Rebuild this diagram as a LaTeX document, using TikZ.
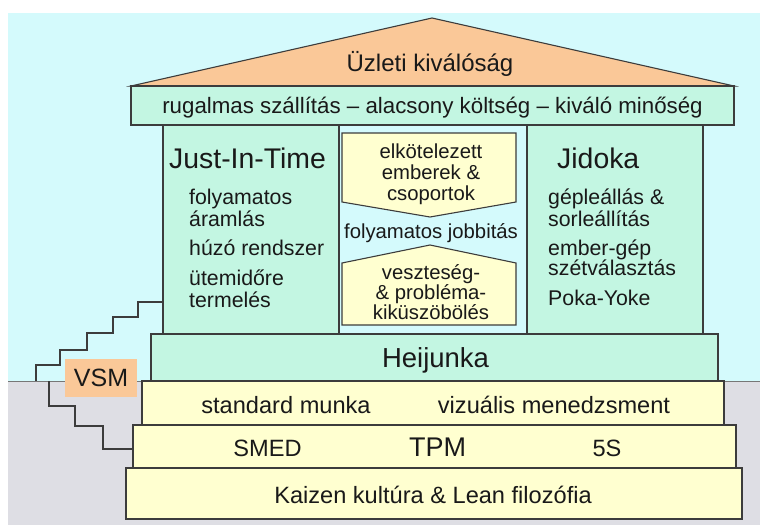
\documentclass[tikz,border=0pt]{standalone}
\usepackage{fontspec}
\setmainfont{Liberation Sans}
\definecolor{skyc}{RGB}{212,250,252}
\definecolor{groundc}{RGB}{222,222,228}
\definecolor{mintc}{RGB}{195,246,226}
\definecolor{peachc}{RGB}{250,200,152}
\definecolor{creamc}{RGB}{255,255,208}
\definecolor{edgec}{RGB}{60,60,60}
\definecolor{inkc}{RGB}{25,25,25}
\begin{document}
\begin{tikzpicture}[x=1pt,y=-1pt,
  box/.style={draw=edgec, line width=1.1pt, inner sep=0pt, outer sep=0pt, anchor=north west},
  stair/.style={draw=edgec, line width=1.4pt},
  body/.style={inner sep=0pt, text=inkc, font=\fontsize{21.3}{21.3}\selectfont, text height=15.3pt, text depth=0pt},
  mid/.style={inner sep=0pt, text=inkc, font=\fontsize{20.3}{20.3}\selectfont, text height=14.5pt, text depth=0pt},
  base/.style={inner sep=0pt, text=inkc, font=\fontsize{23.6}{23.6}\selectfont, text height=16.9pt, text depth=0pt},
  big/.style={inner sep=0pt, text=inkc, font=\fontsize{28.4}{28.4}\selectfont, text height=20.3pt, text depth=0pt}]
\useasboundingbox (0,0) rectangle (760,527);
\fill[white] (0,0) rectangle (760,527);
\fill[skyc] (8,13) rectangle (760,381);
\fill[groundc] (8,381) rectangle (760,525);
\draw[edgec!70, line width=0.8pt] (8,381) -- (760,381);
% roof
\draw[edgec, line width=1.1pt, fill=peachc] (131,86) -- (432,18) -- (734,86) -- cycle;
\node[inner sep=0pt, text=inkc, font=\fontsize{24}{24}\selectfont, text height=17.2pt, text depth=0pt] (roof) at (430,63) {Üzleti kiválóság};
% band
\node[box, fill=mintc, minimum width=603pt, minimum height=39pt] (band) at (131,86) {};
\node[body, font=\fontsize{22.3}{22.3}\selectfont, text height=16pt] (bandt) at (band.center) {rugalmas szállítás – alacsony költség – kiváló minőség};
% columns
\node[box, fill=mintc, minimum width=176pt, minimum height=209pt] (jit) at (163,125) {};
\node[box, fill=mintc, minimum width=176pt, minimum height=209pt] (jid) at (527,125) {};
\node[big, anchor=west] (jitt) at (169,158) {Just-In-Time};
\node[body, anchor=west] (j1) at (189,197) {folyamatos};
\node[body, anchor=west] (j2) at (189,219) {áramlás};
\node[body, anchor=west] (j3) at (189,248) {húzó rendszer};
\node[body, anchor=west] (j4) at (189,278) {ütemidőre};
\node[body, anchor=west] (j5) at (189,300) {termelés};
\node[big, anchor=west] (jidt) at (557,158) {Jidoka};
\node[body, anchor=west] (k1) at (548,197) {gépleállás \&};
\node[body, anchor=west] (k2) at (548,219) {sorleállítás};
\node[body, anchor=west] (k3) at (548,248) {ember-gép};
\node[body, anchor=west] (k4) at (548,268) {szétválasztás};
\node[body, anchor=west] (k5) at (548,298) {Poka-Yoke};
% middle pentagons
\draw[edgec, line width=1.1pt, fill=creamc] (342,133) -- (516,133) -- (516,202) -- (430,217) -- (342,202) -- cycle;
\node[mid] (m1) at (431,151) {elkötelezett};
\node[mid] (m2) at (431,172) {emberek \&};
\node[mid] (m3) at (431,193) {csoportok};
\node[mid] (m4) at (431,231) {folyamatos jobbitás};
\draw[edgec, line width=1.1pt, fill=creamc] (342,325) -- (516,325) -- (516,263) -- (430,245) -- (342,263) -- cycle;
\node[mid] (m5) at (431,272) {veszteség-};
\node[mid] (m6) at (431,292) {\& probléma-};
\node[mid] (m7) at (431,312) {kiküszöbölés};
% foundation
\node[box, fill=mintc, minimum width=567pt, minimum height=47pt] (heij) at (151,334) {};
\node[big, font=\fontsize{27.5}{27.5}\selectfont, text height=19.7pt] (heijt) at (435.5,358) {Heijunka};
\node[box, fill=creamc, minimum width=582pt, minimum height=44pt] (std) at (142,381) {};
\node[base] (stdt) at (286,405) {standard munka};
\node[base] (vis) at (554,405) {vizuális menedzsment};
\node[box, fill=creamc, minimum width=603pt, minimum height=43pt] (smed) at (133,425) {};
\node[base] (smedt) at (267.5,448) {SMED};
\node[big, font=\fontsize{27}{27}\selectfont, text height=19.3pt] (tpm) at (437.5,447) {TPM};
\node[base] (fives) at (607,448) {5S};
\node[box, fill=creamc, minimum width=616pt, minimum height=51pt] (kai) at (126,468) {};
\node[base] (kait) at (433,495) {Kaizen kultúra \& Lean filozófia};
% VSM stairs
\coordinate (g1) at (36,381);
\coordinate (g2) at (49,381);
\draw[stair] (jit.west |- 0,302) -| (138,317) -| (113,333) -| (87,350) -| (60,365) -| (g1);
\draw[stair] (g2) |- (75,406) |- (103,426) |- (smed.west |- 0,449);
\node[fill=peachc, minimum width=72pt, minimum height=38pt, inner sep=0pt, text=inkc, font=\fontsize{25}{25}\selectfont] (vsm) at (101,378) {VSM};
\end{tikzpicture}
\end{document}
